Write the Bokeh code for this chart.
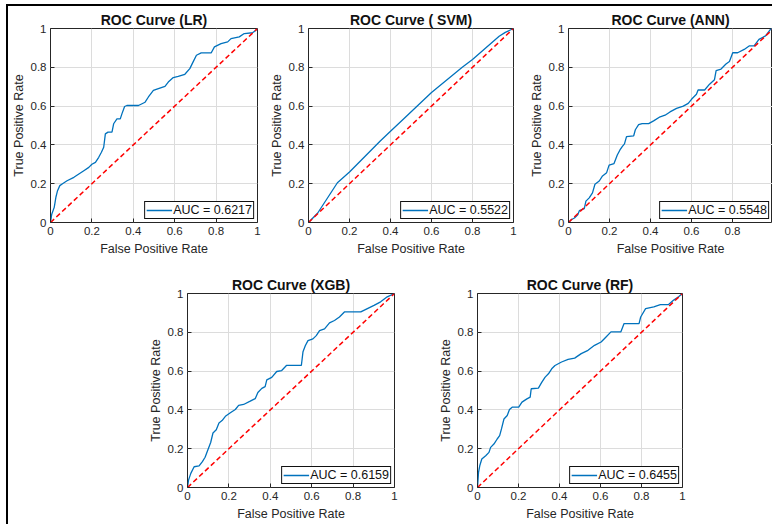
from bokeh.plotting import figure
from bokeh.layouts import row, column
from bokeh.models import Spacer, FixedTicker, CustomJSTickFormatter, Range1d
from bokeh.embed import file_html
from bokeh.resources import INLINE

# ---------------- data ----------------
lr_fpr = [0, 0.006, 0.018, 0.026, 0.034, 0.045, 0.058, 0.08, 0.113, 0.137, 0.161, 0.185, 0.2, 0.217, 0.233, 0.246, 0.257, 0.265, 0.278, 0.297, 0.305, 0.321, 0.337, 0.345, 0.358, 0.369, 0.425, 0.457, 0.473, 0.497, 0.521, 0.553, 0.569, 0.593, 0.617, 0.649, 0.673, 0.689, 0.705, 0.728, 0.776, 0.792, 0.824, 0.856, 0.872, 0.912, 0.936, 0.976, 0.992, 1]
lr_tpr = [0, 0.043, 0.078, 0.13, 0.164, 0.19, 0.2, 0.215, 0.233, 0.25, 0.267, 0.284, 0.3, 0.31, 0.336, 0.362, 0.388, 0.457, 0.466, 0.466, 0.509, 0.534, 0.534, 0.56, 0.598, 0.603, 0.603, 0.62, 0.647, 0.681, 0.69, 0.702, 0.724, 0.747, 0.753, 0.764, 0.793, 0.828, 0.862, 0.874, 0.874, 0.905, 0.922, 0.931, 0.948, 0.957, 0.974, 0.978, 0.991, 1]

svm_fpr = [0, 0.045, 0.141, 0.2, 0.35, 0.4, 0.47, 0.6, 0.75, 0.8, 0.93, 0.96, 1]
svm_tpr = [0, 0.049, 0.205, 0.26, 0.42, 0.47, 0.54, 0.67, 0.80, 0.84, 0.96, 0.98, 1]

ann_fpr = [0, 0.013, 0.029, 0.045, 0.053, 0.077, 0.085, 0.101, 0.117, 0.129, 0.15, 0.166, 0.186, 0.198, 0.222, 0.238, 0.251, 0.262, 0.273, 0.283, 0.318, 0.326, 0.342, 0.359, 0.391, 0.415, 0.447, 0.471, 0.495, 0.527, 0.56, 0.584, 0.6, 0.624, 0.632, 0.664, 0.688, 0.712, 0.72, 0.744, 0.768, 0.785, 0.801, 0.825, 0.857, 0.881, 0.905, 0.929, 0.961, 0.986, 1]
ann_tpr = [0, 0.014, 0.023, 0.04, 0.061, 0.071, 0.11, 0.127, 0.153, 0.197, 0.214, 0.24, 0.257, 0.296, 0.304, 0.348, 0.374, 0.391, 0.405, 0.443, 0.447, 0.478, 0.504, 0.51, 0.51, 0.524, 0.545, 0.553, 0.57, 0.588, 0.6, 0.614, 0.635, 0.661, 0.683, 0.683, 0.713, 0.736, 0.783, 0.791, 0.817, 0.83, 0.875, 0.875, 0.892, 0.91, 0.91, 0.944, 0.962, 0.997, 1]

xgb_fpr = [0, 0.005, 0.016, 0.032, 0.056, 0.072, 0.085, 0.1, 0.112, 0.123, 0.139, 0.152, 0.167, 0.183, 0.207, 0.231, 0.247, 0.271, 0.303, 0.327, 0.34, 0.359, 0.375, 0.383, 0.407, 0.431, 0.455, 0.478, 0.55, 0.558, 0.569, 0.582, 0.606, 0.622, 0.638, 0.662, 0.686, 0.71, 0.734, 0.758, 0.837, 0.869, 0.901, 0.933, 0.965, 1]
xgb_tpr = [0, 0.038, 0.073, 0.107, 0.111, 0.133, 0.156, 0.198, 0.232, 0.281, 0.298, 0.333, 0.345, 0.367, 0.385, 0.402, 0.423, 0.428, 0.445, 0.458, 0.49, 0.511, 0.52, 0.555, 0.568, 0.598, 0.603, 0.629, 0.629, 0.7, 0.731, 0.757, 0.766, 0.783, 0.809, 0.818, 0.849, 0.861, 0.879, 0.905, 0.905, 0.922, 0.939, 0.957, 0.983, 1]

rf_fpr = [0, 0.005, 0.011, 0.021, 0.04, 0.056, 0.064, 0.08, 0.096, 0.108, 0.117, 0.129, 0.145, 0.156, 0.169, 0.201, 0.217, 0.241, 0.257, 0.262, 0.297, 0.314, 0.33, 0.346, 0.362, 0.378, 0.41, 0.442, 0.474, 0.506, 0.539, 0.571, 0.603, 0.627, 0.651, 0.699, 0.715, 0.788, 0.796, 0.82, 0.86, 0.892, 0.932, 0.957, 0.981, 1]
rf_tpr = [0, 0.078, 0.112, 0.147, 0.164, 0.181, 0.207, 0.224, 0.25, 0.267, 0.302, 0.353, 0.371, 0.402, 0.414, 0.414, 0.44, 0.457, 0.466, 0.509, 0.512, 0.543, 0.569, 0.586, 0.612, 0.629, 0.647, 0.66, 0.667, 0.69, 0.707, 0.733, 0.75, 0.776, 0.802, 0.802, 0.845, 0.845, 0.879, 0.922, 0.931, 0.943, 0.943, 0.966, 0.983, 1]

diag = [0, 1]
ticks = [0, 0.2, 0.4, 0.6, 0.8, 1]

titles = ["ROC Curve (LR)", "ROC Curve ( SVM)", "ROC Curve (ANN)", "ROC Curve (XGB)", "ROC Curve (RF)"]
auc_labels = ["AUC = 0.6217", "AUC = 0.5522", "AUC = 0.5548", "AUC = 0.6159", "AUC = 0.6455"]

FONT = "Liberation Sans"
AX = "#262626"


def make(title, fpr, tpr, label, width, height, bl, br, bt, bb, xend=1.0):
    p = figure(width=width, height=height, output_backend="svg", toolbar_location=None,
               x_range=Range1d(0, xend), y_range=Range1d(0, 1),
               min_border_left=bl, min_border_right=br, min_border_top=bt, min_border_bottom=bb,
               background_fill_color="white", border_fill_color="white")
    p.title.text = title
    p.title.align = "center"
    p.title.text_font = FONT
    p.title.text_font_size = "14px"
    p.title.text_font_style = "bold"
    p.title.text_color = "#111111"
    p.title.standoff = 2
    p.outline_line_color = AX
    p.outline_line_width = 1
    p.outline_line_alpha = 1
    fmt = CustomJSTickFormatter(code="return (Math.round(tick*10)/10).toString();")
    for ax in (p.xaxis[0], p.yaxis[0]):
        ax.ticker = FixedTicker(ticks=ticks, minor_ticks=[])
        ax.formatter = fmt
        ax.axis_line_color = None
        ax.major_tick_in = 4
        ax.major_tick_out = 0
        ax.major_tick_line_color = AX
        ax.minor_tick_line_color = None
        ax.major_label_text_font = FONT
        ax.major_label_text_font_size = "11.5px"
        ax.major_label_text_color = AX
        ax.axis_label_text_font = FONT
        ax.axis_label_text_font_size = "12.5px"
        ax.axis_label_text_font_style = "normal"
        ax.axis_label_text_color = AX
    p.xaxis.axis_label = "False Positive Rate"
    p.yaxis.axis_label = "True Positive Rate"
    p.xaxis.major_label_standoff = 4
    p.xaxis.axis_label_standoff = 4
    p.yaxis.major_label_standoff = 4
    p.yaxis.axis_label_standoff = 2
    p.grid.grid_line_color = "#dcdcdc"
    p.grid.grid_line_width = 1

    p.line(fpr, tpr, line_color="#0072BD", line_width=1.3, legend_label=label)
    p.line(diag, diag, line_color="#ff0000", line_width=1.5, line_dash="5 3")

    lg = p.legend[0]
    lg.location = "bottom_right"
    lg.margin = 3
    lg.padding = 1
    lg.spacing = 0
    lg.label_standoff = 1
    lg.glyph_width = 26
    lg.glyph_height = 10
    lg.label_height = 10
    lg.label_text_font = FONT
    lg.label_text_font_size = "12.5px"
    lg.label_text_color = "#111111"
    lg.border_line_color = "#111111"
    lg.border_line_width = 1
    lg.border_line_alpha = 1
    lg.background_fill_color = "white"
    lg.background_fill_alpha = 1
    return p


TOP_H = 267
BOT_H = 251

p_lr = make(titles[0], lr_fpr, lr_tpr, auc_labels[0], 258, TOP_H, 40, 9, 22, 51)
p_svm = make(titles[1], svm_fpr, svm_tpr, auc_labels[1], 260, TOP_H, 40, 13, 22, 51)
p_ann = make(titles[2], ann_fpr, ann_tpr, auc_labels[2], 246, TOP_H, 40, 0, 22, 51, xend=0.995)

p_xgb = make(titles[3], xgb_fpr, xgb_tpr, auc_labels[3], 290, BOT_H, 40, 41, 20, 37)
p_rf = make(titles[4], rf_fpr, rf_tpr, auc_labels[4], 260, BOT_H, 40, 13, 20, 37)

top = row(p_lr, p_svm, p_ann)
bottom = row(Spacer(width=137, height=BOT_H), p_xgb, p_rf)
layout = column(top, bottom, styles={"margin-left": "6px", "margin-top": "4px",
                                     "border-left": "2px solid #000000",
                                     "border-top": "2px solid #000000"})

open("out.html", "w").write(file_html(layout, INLINE))
